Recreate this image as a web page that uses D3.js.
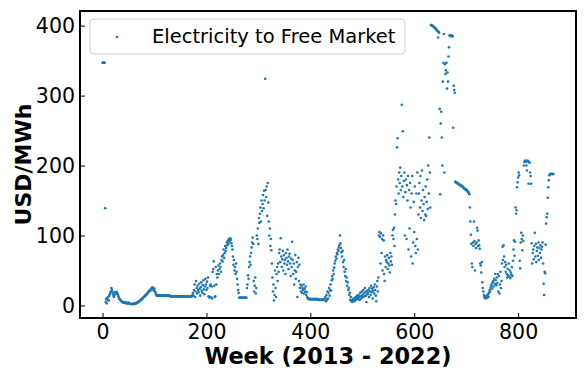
<!DOCTYPE html>
<html>
<head>
<meta charset="utf-8">
<script src="https://cdn.jsdelivr.net/npm/d3@7"></script>
<style>
  html, body { margin: 0; padding: 0; background: #fff; }
  svg { display: block; font-family: "DejaVu Sans", sans-serif; }
</style>
</head>
<body>
<div id="chart"></div>
<script>
////////////////////////////////////////////////////////////////
// Data (weekly price, USD/MWh) in blocks of 100 weeks
const seriesName = "Electricity to Free Market";
const xTicks = [0, 200, 400, 600, 800];
const yTicks = [0, 100, 200, 300, 400];

const weeks000 = [
  347, 347, 347, 347, 347, 139, 5, 9, 3, 11,
  8, 12, 7, 14, 16, 18, 20, 25, 22, 19,
  17, 14, 12, 15, 19, 18, 17, 19, 18, 16,
  14, 12, 10, 9, 8, 7, 6, 6, 5, 5,
  4, 4, 4, 5, 4, 3, 4, 3, 3, 3,
  4, 3, 3, 2, 2, 2, 2, 2, 2, 2,
  2, 3, 2, 3, 3, 3, 4, 4, 5, 5,
  6, 6, 7, 7, 8, 9, 9, 10, 11, 12,
  12, 13, 14, 15, 15, 16, 17, 18, 19, 20,
  21, 22, 21, 23, 24, 25, 26, 25, 22, 21
];
const weeks100 = [
  24, 20, 18, 16, 14, 15, 14, 14, 14, 14,
  15, 14, 14, 14, 14, 14, 14, 14, 14, 14,
  14, 14, 14, 14, 14, 14, 14, 14, 14, 14,
  13, 13, 13, 13, 13, 13, 13, 13, 13, 13,
  13, 13, 13, 13, 13, 13, 13, 13, 13, 13,
  13, 13, 13, 13, 13, 13, 13, 13, 13, 13,
  13, 13, 13, 13, 13, 13, 13, 13, 13, 13,
  13, 13, 13, 15, 18, 14, 22, 30, 12, 20,
  35, 25, 17, 28, 22, 19, 31, 24, 14, 26,
  33, 21, 18, 29, 36, 23, 16, 27, 38, 30
];
const weeks200 = [
  22, 34, 25, 40, 13, 12, 11, 28, 30, 12,
  27, 10, 48, 52, 63, 28, 12, 13, 55, 30,
  45, 40, 50, 57, 45, 52, 60, 55, 48, 65,
  70, 63, 72, 80, 68, 75, 85, 78, 82, 90,
  86, 92, 88, 95, 91, 93, 96, 94, 89, 85,
  80, 70, 58, 65, 50, 55, 45, 60, 48, 38,
  30, 22, 18, 11, 11, 11, 11, 11, 11, 11,
  11, 11, 11, 11, 11, 11, 11, 11, 25, 30,
  43, 38, 55, 62, 70, 58, 75, 83, 90, 97,
  88, 35, 20, 28, 40, 17, 25, 100, 95, 110
];
const weeks300 = [
  88, 125, 118, 131, 140, 120, 150, 135, 145, 158,
  139, 164, 150, 324, 165, 155, 170, 128, 175, 147,
  120, 100, 110, 85, 95, 79, 60, 40, 20, 30,
  7, 15, 50, 25, 12, 45, 55, 35, 60, 48,
  75, 80, 62, 96, 70, 55, 66, 78, 50, 72,
  60, 65, 45, 75, 68, 58, 80, 63, 52, 70,
  74, 60, 42, 67, 55, 91, 65, 45, 60, 30,
  50, 72, 38, 48, 62, 12, 55, 68, 35, 58,
  25, 30, 20, 28, 18, 25, 22, 30, 17, 24,
  20, 27, 15, 19, 12, 10, 10, 10, 9, 9
];
const weeks400 = [
  9, 9, 9, 9, 9, 9, 9, 9, 9, 9,
  9, 9, 9, 9, 9, 8, 8, 8, 8, 8,
  8, 8, 8, 8, 8, 8, 8, 9, 10, 12,
  6, 15, 8, 20, 10, 18, 25, 14, 22, 30,
  21, 36, 42, 38, 50, 45, 54, 60, 64, 70,
  67, 75, 73, 80, 78, 83, 86, 100, 89, 82,
  76, 70, 78, 62, 55, 65, 48, 42, 52, 35,
  40, 28, 33, 22, 25, 15, 18, 8, 12, 6,
  7, 5, 8, 10, 7, 6, 9, 12, 8, 10,
  14, 11, 9, 15, 12, 8, 18, 13, 10, 20
];
const weeks500 = [
  15, 12, 22, 17, 13, 25, 19, 14, 5, 21,
  16, 18, 22, 12, 25, 20, 15, 28, 19, 24,
  10, 21, 26, 17, 30, 22, 14, 6, 27, 35,
  20, 40, 100, 105, 98, 60, 103, 75, 95, 50,
  100, 93, 45, 35, 70, 55, 65, 62, 72, 52,
  60, 68, 57, 47, 75, 63, 70, 58, 100, 108,
  95, 111, 85, 130, 150, 145, 170, 226, 239, 180,
  160, 190, 175, 197, 165, 185, 287, 170, 249, 155,
  178, 190, 100, 162, 180, 95, 172, 150, 185, 80,
  165, 110, 175, 140, 70, 160, 185, 60, 90, 148
];
const weeks600 = [
  105, 170, 85, 75, 160, 95, 190, 80, 130, 160,
  175, 140, 185, 125, 150, 193, 135, 165, 145, 122,
  155, 130, 170, 128, 148, 180, 138, 200, 160, 240,
  190, 140, 401, 401, 400, 400, 399, 399, 398, 397,
  397, 396, 395, 394, 393, 392, 383, 391, 390, 281,
  159, 260, 277, 240, 200, 320, 347, 388, 190, 345,
  331, 336, 347, 310, 333, 320, 356, 369, 386, 386,
  386, 385, 386, 385, 385, 254, 314, 308, 304, 177,
  176, 176, 175, 175, 174, 174, 173, 173, 172, 172,
  171, 171, 170, 170, 169, 168, 168, 167, 166, 166
];
const weeks700 = [
  165, 165, 164, 163, 162, 161, 159, 140, 120, 101,
  88, 60, 55, 90, 85, 120, 92, 50, 88, 82,
  90, 111, 107, 85, 93, 86, 81, 60, 57, 47,
  62, 33, 25, 20, 15, 12, 11, 10, 13, 12,
  11, 14, 16, 12, 18, 22, 20, 25, 28, 30,
  24, 33, 35, 27, 38, 31, 45, 36, 29, 40,
  32, 45, 20, 42, 17, 30, 48, 25, 35, 60,
  84, 65, 86, 70, 55, 62, 48, 58, 45, 40,
  52, 43, 60, 41, 50, 39, 47, 44, 55, 42,
  64, 80, 93, 71, 91, 140, 131, 136, 169, 176
];
const weeks800 = [
  183, 190, 186, 64, 53, 90, 104, 95, 79, 100,
  92, 200, 205, 207, 206, 205, 200, 193, 207, 206,
  174, 205, 204, 190, 185, 174, 89, 60, 75, 80,
  66, 85, 104, 70, 88, 62, 78, 83, 71, 90,
  65, 82, 75, 86, 68, 80, 84, 90, 60, 31,
  15, 48, 46, 87, 117, 126, 131, 154, 169, 179,
  186, 188, 188, 188, 188, 188, 188, 188, 188
];

const prices = [].concat(weeks000, weeks100, weeks200, weeks300, weeks400,
  weeks500, weeks600, weeks700, weeks800);
const points = prices.map((v, i) => ({ week: i, value: v }));

////////////////////////////////////////////////////////////////
// Layout
const width = 586;
const height = 378;
const margin = ({ top: 11, right: 10, bottom: 60, left: 80 });
const blue = "#1f77b4";

// matplotlib style: 5% padding around the data range
const pad = ([a, b]) => [a - (b - a) * 0.05, b + (b - a) * 0.05];

const x = d3.scaleLinear()
  .domain(pad(d3.extent(points, d => d.week)))
  .range([margin.left, width - margin.right]);
const y = d3.scaleLinear()
  .domain(pad(d3.extent(points, d => d.value)))
  .range([height - margin.bottom, margin.top]);

const svg = d3.select("#chart")
  .append("svg")
  .attr("width", width)
  .attr("height", height)
  .attr("viewBox", [0, 0, width, height]);

////////////////////////////////////////////////////////////////
// Points
svg.append("g")
  .attr("fill", blue)
  .selectAll("circle")
  .data(points)
  .join("circle")
  .attr("cx", d => x(d.week))
  .attr("cy", d => y(d.value))
  .attr("r", 1.3);

////////////////////////////////////////////////////////////////
// Axes (ticks pointing inward)
const xAxis = d3.axisBottom(x)
  .tickValues(xTicks)
  .tickSizeInner(-5)
  .tickSizeOuter(0)
  .tickPadding(6);
const yAxis = d3.axisLeft(y)
  .tickValues(yTicks)
  .tickSizeInner(-5)
  .tickSizeOuter(0)
  .tickPadding(5);

const gx = svg.append("g")
  .attr("transform", `translate(0,${height - margin.bottom})`)
  .call(xAxis);
const gy = svg.append("g")
  .attr("transform", `translate(${margin.left},0)`)
  .call(yAxis);

[gx, gy].forEach(g => {
  g.select(".domain").remove();
  g.selectAll(".tick line").attr("stroke", "#000").attr("stroke-width", 1);
  g.selectAll(".tick text")
    .attr("fill", "#000")
    .style("font-size", "20.5px")
    .style("font-family", "DejaVu Sans");
});

// frame
svg.append("rect")
  .attr("x", margin.left)
  .attr("y", margin.top)
  .attr("width", width - margin.left - margin.right)
  .attr("height", height - margin.top - margin.bottom)
  .attr("fill", "none")
  .attr("stroke", "#000")
  .attr("stroke-width", 1.1)
  .attr("shape-rendering", "crispEdges");

////////////////////////////////////////////////////////////////
// Axis titles
svg.append("text")
  .attr("x", (margin.left + width - margin.right) / 2)
  .attr("y", 364)
  .attr("text-anchor", "middle")
  .style("font-size", "22.4px")
  .style("font-weight", "bold")
  .text("Week (2013 - 2022)");

svg.append("text")
  .attr("transform", `translate(31,${(margin.top + height - margin.bottom) / 2}) rotate(-90)`)
  .attr("text-anchor", "middle")
  .style("font-size", "22px")
  .style("font-weight", "bold")
  .text("USD/MWh");

////////////////////////////////////////////////////////////////
// Legend
const legend = svg.append("g")
  .attr("transform", `translate(${margin.left + 10},19)`);

legend.append("rect")
  .attr("width", 315)
  .attr("height", 35)
  .attr("rx", 4)
  .attr("fill", "#fff")
  .attr("fill-opacity", 0.8)
  .attr("stroke", "#d0d0d0")
  .attr("stroke-width", 1);

legend.append("circle")
  .attr("cx", 27)
  .attr("cy", 18)
  .attr("r", 1.3)
  .attr("fill", blue);

legend.append("text")
  .attr("x", 62)
  .attr("y", 24)
  .style("font-size", "19.5px")
  .text(seriesName);
</script>
</body>
</html>
